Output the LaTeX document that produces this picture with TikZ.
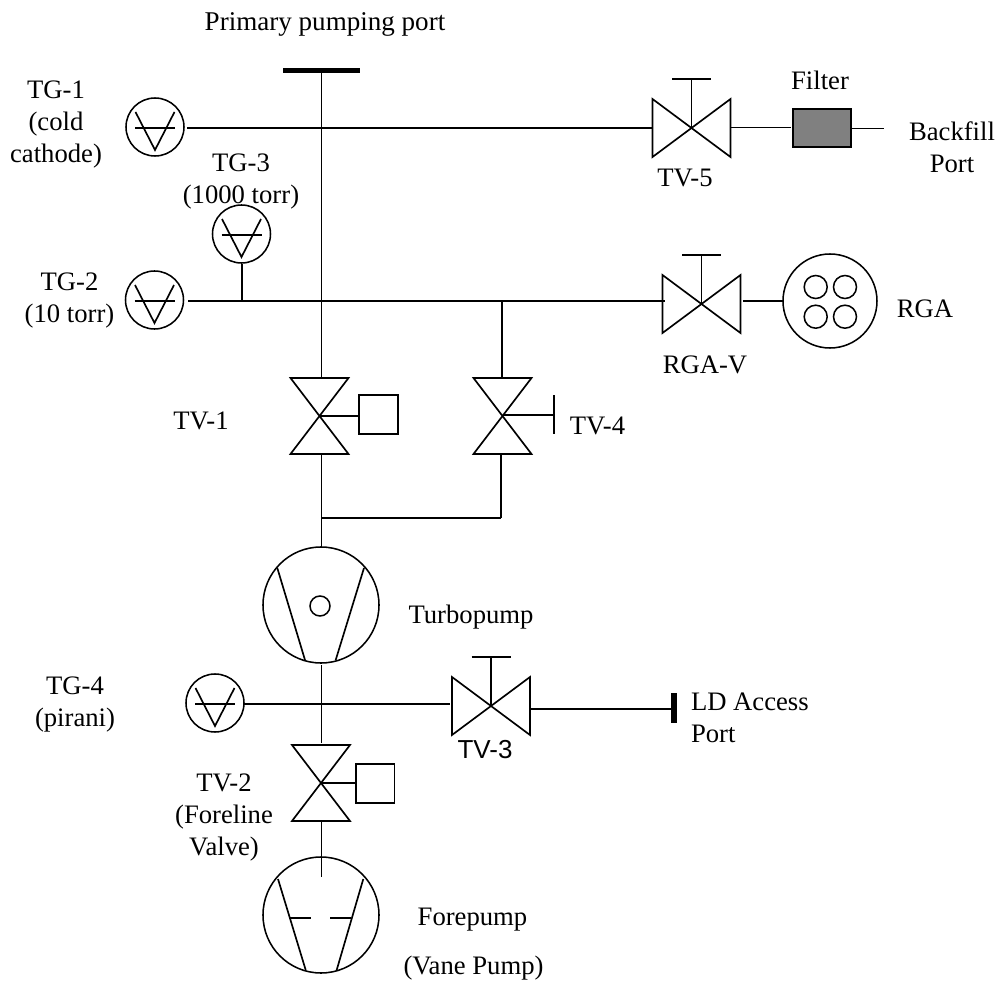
\documentclass[tikz,border=0pt]{standalone}
\usepackage{fontspec}
\setmainfont{Liberation Serif}
\newfontfamily\arialfont{Liberation Sans}
\tikzset{
  pipe/.style={line width=1.3pt,line cap=butt},
  symb/.style={line width=1.25pt,line join=miter},
  gaugecirc/.style={circle,draw,line width=1.15pt,inner sep=0pt,outer sep=0pt,minimum size=43.5pt},
  pumpcirc/.style={circle,draw,line width=1.15pt,inner sep=0pt,outer sep=0pt,minimum size=87pt},
  rgacirc/.style={circle,draw,line width=1.15pt,inner sep=0pt,outer sep=0pt,minimum size=70.5pt},
  smallcirc/.style={circle,draw,line width=1.15pt,inner sep=0pt,outer sep=0pt,minimum size=17.25pt},
  hubcirc/.style={circle,draw,line width=1.15pt,inner sep=0pt,outer sep=0pt,minimum size=15pt},
  actbox/.style={rectangle,draw,line width=1.15pt,inner sep=0pt,outer sep=0pt,minimum size=29pt},
  filterbox/.style={rectangle,draw,fill=black!50,line width=1.15pt,inner sep=0pt,outer sep=0pt,minimum width=43.5pt,minimum height=28.5pt},
  lbl/.style={inner sep=0pt,outer sep=0pt,align=center,font=\fontsize{20}{24}\selectfont},
  lbll/.style={lbl,align=left,anchor=west},
}
\newcommand{\gaugesym}[2]{%
  \node[gaugecirc] (#1) at (#2) {};
  \draw[symb] ([shift={(-19.5,-15)}]#1.center) -- ([shift={(0,23)}]#1.center) -- ([shift={(19.5,-15)}]#1.center);
  \draw[symb] ([shift={(-20,1)}]#1.center) -- ([shift={(20,1)}]#1.center);
}
\newcommand{\hvalve}[2]{%
  \coordinate (#1) at (#2);
  \draw[symb] ([shift={(-39,-29)}]#1) -- ([shift={(39,29)}]#1) -- ([shift={(39,-29)}]#1) -- ([shift={(-39,29)}]#1) -- cycle;
  \coordinate (#1s) at ([shift={(0,-49)}]#1);
  \draw[symb] (#1) -- (#1s);
  \draw[symb] ([shift={(-19.5,0)}]#1s) -- ([shift={(19.5,0)}]#1s);
}
\newcommand{\vvalve}[2]{%
  \coordinate (#1) at (#2);
  \draw[symb] ([shift={(-29,-38)}]#1) -- ([shift={(29,38)}]#1) -- ([shift={(-29,38)}]#1) -- ([shift={(29,-38)}]#1) -- cycle;
}
\begin{document}
\begin{tikzpicture}[x=0.75pt,y=-0.75pt]
\useasboundingbox (0,0) rectangle (1001,981);

% gauges
\gaugesym{tgone}{155,127}
\gaugesym{tgthree}{241.5,234}
\gaugesym{tgtwo}{154.5,300}
\gaugesym{tgfour}{215,703}

% valves
\hvalve{tvfive}{691.5,128}
\hvalve{rgav}{701.5,304}
\hvalve{tvthree}{491,706}
\vvalve{tvone}{319.5,416}
\vvalve{tvfour}{502.5,416}
\vvalve{tvtwo}{321,783}

% equipment
\node[filterbox] (filter) at (822,128) {};
\node[rgacirc] (rga) at (830,301) {};
\node[smallcirc] (qa) at (815.7,287) {};
\node[smallcirc] (qb) at (845,287) {};
\node[smallcirc] (qc) at (815.7,316.7) {};
\node[smallcirc] (qd) at (845,316.7) {};
\node[actbox] (boxone) at (378.5,414.5) {};
\node[actbox] (boxtwo) at (375.2,783.5) {};

% turbopump
\node[pumpcirc] (turbo) at (321,605) {};
\node[hubcirc] (hub) at (320,606) {};
\draw[symb] (277.3,568) -- (305,660);
\draw[symb] (364,568) -- (335.7,660);

% forepump
\node[pumpcirc] (fore) at (321,915) {};
\draw[symb] (278,879) -- (305.7,970);
\draw[symb] (363.3,879) -- (336.7,970);
\draw[symb] (290,918) -- (311,918);
\draw[symb] (330,918) -- (351,918);

% named junctions and free ends
\coordinate (portbarL) at (283,70.7);
\coordinate (portbarR) at (360,70.7);
\coordinate (portbar) at (321.5,70.7);
\coordinate (tgoneE) at (187,128);
\coordinate (tvfiveW) at (653,128);
\coordinate (tgtwoE) at (188,301);
\coordinate (tvoneT) at (321.5,378);
\coordinate (tvoneB) at (321.5,454);
\coordinate (turboT) at (321.5,547);
\coordinate (jlow) at (321.5,518);
\coordinate (tvfourT) at (502,378);
\coordinate (tvfourJ) at (502,301);
\coordinate (tvfourB) at (501,454);
\coordinate (tvfourL) at (501,518);
\coordinate (jthree) at (242,301);
\coordinate (jthreeT) at (242,264);
\coordinate (rgavL) at (665,301);
\coordinate (rgavR) at (743,301);
\coordinate (fltin) at (730,127.5);
\coordinate (fltinE) at (791,127.5);
\coordinate (fltoutW) at (851,128.5);
\coordinate (fltout) at (884,128.5);
\coordinate (turboB) at (321.5,665);
\coordinate (tvtwoT) at (321.5,743);
\coordinate (tvtwoB) at (321.5,820);
\coordinate (foreI) at (321.5,877);
\coordinate (tgfourE) at (244,704);
\coordinate (tvthreeW) at (450,704);
\coordinate (tvthreeE) at (531,709);
\coordinate (ldport) at (674,709);
\coordinate (ldT) at (674,693);
\coordinate (ldB) at (674,723);
\coordinate (actfour) at (502.5,415);
\coordinate (actfourE) at (554,415);
\coordinate (actfourT) at (554,395);
\coordinate (actfourB) at (554,434);

% pipes
\draw[line width=4.2pt] (portbarL) -- (portbarR);
\draw[pipe] (portbar) -- (tvoneT);
\draw[pipe] (tgoneE) -- (tvfiveW);
\draw[pipe] (fltin) -- (fltinE);
\draw[pipe] (fltoutW) -- (fltout);
\draw[pipe] (tgtwoE) -- (rgavL);
\draw[pipe] (jthreeT) -- (jthree);
\draw[pipe] (rgavR) -- (rga.west);
\draw[pipe] (tvfourJ) -- (tvfourT);
\draw[pipe] (tvoneB) -- (turboT);
\draw[pipe] (jlow) -- (tvfourL);
\draw[pipe] (tvfourB) -- (tvfourL);
\draw[pipe] (tvone) -- (boxone.west |- tvone);
\draw[pipe] (actfour) -- (actfourE);
\draw[pipe] (actfourT) -- (actfourB);
\draw[pipe] (turboB) -- (tvtwoT);
\draw[pipe] (tgfourE) -- (tvthreeW);
\draw[pipe] (tvthreeE) -- (ldport);
\draw[line width=4.4pt] (ldT) -- (ldB);
\draw[pipe] (tvtwo) -- (boxtwo.west |- tvtwo);
\draw[pipe] (tvtwoB) -- (foreI);

% labels
\node[lbl,font=\fontsize{20.3}{24}\selectfont] (lprimary) at (325,24) {Primary pumping port};
\node[lbl] (ltgone) at (56,125) {TG-1\\(cold\\cathode)};
\node[lbl] (ltgthree) at (241,182) {TG-3\\(1000 torr)};
\node[lbl] (ltgtwo) at (69.5,301) {TG-2\\(10 torr)};
\node[lbl] (ltvfive) at (685,178) {TV-5};
\node[lbl] (lfilter) at (820,80) {Filter};
\node[lbl] (lback) at (952,147) {Backfill\\Port};
\node[lbl] (lrga) at (925,309) {RGA};
\node[lbl] (lrgav) at (705,365) {RGA-V};
\node[lbl] (ltvone) at (201,421) {TV-1};
\node[lbl] (ltvfour) at (597.5,426) {TV-4};
\node[lbl] (lturbo) at (471,617) {Turbopump};
\node[lbl] (ltgfour) at (75,705) {TG-4\\(pirani)};
\node[lbl,font=\arialfont\fontsize{19.5}{24}\selectfont] (ltvthree) at (485,750) {TV-3};
\node[lbll] (lld) at (691,718) {LD Access\\Port};
\node[lbl] (ltvtwo) at (224,818) {TV-2\\(Foreline\\Valve)};
\node[lbl] (lfore) at (472.5,920) {Forepump};
\node[lbl] (lvane) at (473.5,968) {(Vane Pump)};
\end{tikzpicture}
\end{document}
